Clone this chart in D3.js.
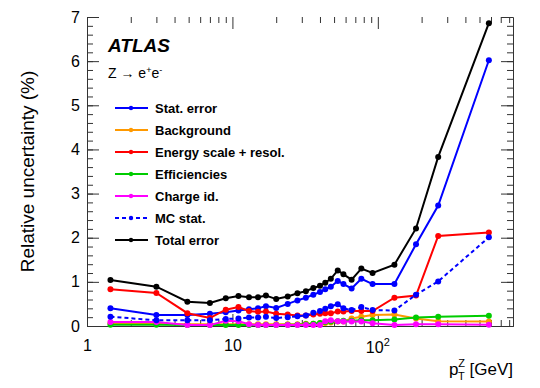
<!DOCTYPE html>
<html lang="en">
<head>
    <meta charset="UTF-8">
    <title>Z to ee relative uncertainties</title>
    <script src="https://d3js.org/d3.v7.min.js"></script>
    <style>
        body { margin: 0; background: white; }
        svg { font-family: "Liberation Sans", Arial, sans-serif; }
        .tick line { stroke: #333; }
    </style>
</head>
<body>
    <div id="chart"></div>
    <script>
        // pT(Z) points [GeV] and relative uncertainties [%]
        var ptZ = [1.45, 3.0, 4.9, 7.0, 9.0, 11, 13, 15, 17, 20, 24, 28, 32, 36, 40, 43.5, 47.5, 53, 58, 66, 77, 92, 130, 183, 260, 580];
        var statErr = [0.40, 0.25, 0.25, 0.28, 0.31, 0.35, 0.38, 0.40, 0.45, 0.41, 0.50, 0.58, 0.64, 0.71, 0.77, 0.83, 0.89, 1.02, 0.95, 0.85, 1.07, 0.95, 0.95, 1.85, 2.73, 6.02];
        var background = [0.06, 0.05, 0.04, 0.04, 0.04, 0.04, 0.04, 0.04, 0.04, 0.04, 0.04, 0.04, 0.05, 0.05, 0.06, 0.07, 0.08, 0.10, 0.10, 0.17, 0.21, 0.25, 0.26, 0.17, 0.11, 0.10];
        var energyScale = [0.83, 0.75, 0.29, 0.18, 0.37, 0.43, 0.34, 0.32, 0.33, 0.28, 0.26, 0.24, 0.24, 0.26, 0.28, 0.29, 0.29, 0.33, 0.33, 0.34, 0.34, 0.34, 0.64, 0.69, 2.04, 2.12];
        var efficiencies = [0.03, 0.03, 0.02, 0.02, 0.02, 0.02, 0.02, 0.02, 0.02, 0.02, 0.03, 0.03, 0.04, 0.05, 0.07, 0.09, 0.10, 0.11, 0.12, 0.12, 0.13, 0.13, 0.15, 0.19, 0.21, 0.23];
        var chargeId = [0.09, 0.09, 0.02, 0.02, 0.12, 0.11, 0.04, 0.02, 0.02, 0.02, 0.02, 0.02, 0.02, 0.02, 0.02, 0.11, 0.13, 0.11, 0.10, 0.10, 0.10, 0.06, 0.02, 0.04, 0.04, 0.03];
        var mcStat = [0.21, 0.13, 0.13, 0.13, 0.16, 0.17, 0.19, 0.19, 0.21, 0.18, 0.20, 0.22, 0.24, 0.30, 0.34, 0.39, 0.45, 0.49, 0.40, 0.36, 0.43, 0.36, 0.35, 0.71, 1.01, 2.01];
        var totalErr = [1.04, 0.89, 0.55, 0.52, 0.63, 0.68, 0.65, 0.65, 0.69, 0.61, 0.67, 0.74, 0.79, 0.86, 0.91, 0.98, 1.07, 1.26, 1.17, 1.05, 1.30, 1.20, 1.39, 2.21, 3.83, 6.86];

        var seriesNames = ["Stat. error", "Background", "Energy scale + resol.", "Efficiencies", "Charge id.", "MC stat.", "Total error"];
        var yTicks = [0, 1, 2, 3, 4, 5, 6, 7];

        var series = [
            {name: seriesNames[0], values: statErr, color: "#0000ff", dash: null},
            {name: seriesNames[1], values: background, color: "#ff9900", dash: null},
            {name: seriesNames[2], values: energyScale, color: "#ff0000", dash: null},
            {name: seriesNames[3], values: efficiencies, color: "#00cc00", dash: null},
            {name: seriesNames[4], values: chargeId, color: "#ff00ff", dash: null},
            {name: seriesNames[5], values: mcStat, color: "#0000ff", dash: "4,3"},
            {name: seriesNames[6], values: totalErr, color: "#000000", dash: null}
        ];

        var width = 540, height = 388;
        var padLeft = 87, padRight = 513, padTop = 17, padBottom = 326;

        var svg = d3.select("#chart").append("svg")
            .attr("width", width)
            .attr("height", height);

        var x = d3.scaleLog().domain([1, 850]).range([padLeft, padRight]);
        var y = d3.scaleLinear().domain([0, 7]).range([padBottom, padTop]);

        var majorX = [1, 10, 100];
        var minorX = [];
        [1, 10, 100].forEach(function(d) {
            for (var k = 2; k <= 9; k++) {
                if (d * k <= 850) minorX.push(d * k);
            }
        });
        var minorY = d3.range(0, 7.001, 0.2);

        // inward ticks on all four sides
        svg.append("g").attr("transform", "translate(0," + padBottom + ")")
            .call(d3.axisBottom(x).tickValues(minorX).tickSize(-6).tickFormat(""))
            .call(function(g) { g.select(".domain").remove(); });
        svg.append("g").attr("transform", "translate(0," + padBottom + ")")
            .call(d3.axisBottom(x).tickValues(majorX).tickSize(-12).tickPadding(14)
                .tickFormat(function(d) { return d === 100 ? "" : String(d); }))
            .call(function(g) {
                g.select(".domain").attr("stroke", "#333");
                g.selectAll("text").attr("font-size", 16).attr("fill", "#000");
            });
        svg.append("g").attr("transform", "translate(0," + padTop + ")")
            .call(d3.axisTop(x).tickValues(minorX).tickSize(-6).tickFormat(""))
            .call(function(g) { g.select(".domain").remove(); });
        svg.append("g").attr("transform", "translate(0," + padTop + ")")
            .call(d3.axisTop(x).tickValues(majorX).tickSize(-12).tickFormat(""))
            .call(function(g) { g.select(".domain").remove(); });

        // 10^2 label
        var lab = svg.append("text")
            .attr("x", x(100) - 12)
            .attr("y", padBottom + 27)
            .attr("font-size", 16);
        lab.append("tspan").text("10");
        lab.append("tspan").attr("font-size", 11).attr("dy", -7).text("2");

        svg.append("g").attr("transform", "translate(" + padLeft + ",0)")
            .call(d3.axisLeft(y).tickValues(minorY).tickSize(-6).tickFormat(""))
            .call(function(g) { g.select(".domain").remove(); });
        svg.append("g").attr("transform", "translate(" + padLeft + ",0)")
            .call(d3.axisLeft(y).tickValues(yTicks).tickSize(-12).tickPadding(7).tickFormat(d3.format("d")))
            .call(function(g) {
                g.select(".domain").attr("stroke", "#333");
                g.selectAll("text").attr("font-size", 16).attr("fill", "#000");
            });
        svg.append("g").attr("transform", "translate(" + padRight + ",0)")
            .call(d3.axisRight(y).tickValues(minorY).tickSize(-6).tickFormat(""))
            .call(function(g) { g.select(".domain").remove(); });
        svg.append("g").attr("transform", "translate(" + padRight + ",0)")
            .call(d3.axisRight(y).tickValues(yTicks).tickSize(-12).tickFormat(""))
            .call(function(g) { g.select(".domain").attr("stroke", "#333"); });

        // axis titles
        svg.append("text")
            .attr("transform", "translate(34," + ((padTop + padBottom) / 2) + ") rotate(-90)")
            .attr("text-anchor", "middle")
            .attr("font-size", 19)
            .text("Relative uncertainty (%)");

        var xt = svg.append("text")
            .attr("x", padRight)
            .attr("y", 375)
            .attr("text-anchor", "end")
            .attr("font-size", 17);
        xt.append("tspan").text("p");
        xt.append("tspan").attr("font-size", 11).attr("dy", -8).text("Z");
        xt.append("tspan").attr("font-size", 11).attr("dx", -7).attr("dy", 13).text("T");
        xt.append("tspan").attr("dy", -5).text(" [GeV]");

        // series
        var line = d3.line()
            .x(function(d, i) { return x(ptZ[i]); })
            .y(function(d) { return y(d); });

        series.forEach(function(s) {
            svg.append("path")
                .datum(s.values)
                .attr("fill", "none")
                .attr("stroke", s.color)
                .attr("stroke-width", 2)
                .attr("stroke-dasharray", s.dash)
                .attr("d", line);
            svg.append("g").selectAll("circle")
                .data(s.values)
                .join("circle")
                .attr("cx", function(d, i) { return x(ptZ[i]); })
                .attr("cy", function(d) { return y(d); })
                .attr("r", 3)
                .attr("fill", s.color);
        });

        // labels
        svg.append("text")
            .attr("x", 108).attr("y", 52)
            .attr("font-size", 19)
            .attr("font-weight", "bold")
            .attr("font-style", "italic")
            .text("ATLAS");
        var zt = svg.append("text")
            .attr("x", 108).attr("y", 78)
            .attr("font-size", 14);
        zt.append("tspan").text("Z \u2192 e");
        zt.append("tspan").attr("font-size", 9).attr("dy", -5).text("+");
        zt.append("tspan").attr("dy", 5).text("e");
        zt.append("tspan").attr("font-size", 9).attr("dy", -5).text("-");

        // legend
        var legend = svg.append("g");
        series.forEach(function(s, i) {
            var ly = 108 + i * 22;
            legend.append("line")
                .attr("x1", 115).attr("x2", 148)
                .attr("y1", ly).attr("y2", ly)
                .attr("stroke", s.color)
                .attr("stroke-width", 2)
                .attr("stroke-dasharray", s.dash);
            legend.append("circle")
                .attr("cx", 131).attr("cy", ly).attr("r", 2.2)
                .attr("fill", s.color);
            legend.append("text")
                .attr("x", 155).attr("y", ly + 4.5)
                .attr("font-size", 13)
                .attr("font-weight", "bold")
                .text(s.name);
        });
    </script>
</body>
</html>
